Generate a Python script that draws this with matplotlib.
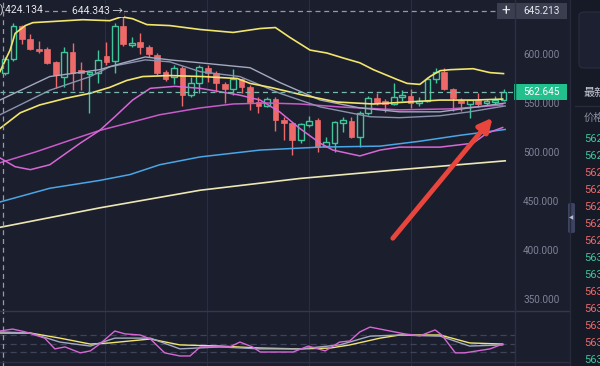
import matplotlib
matplotlib.use("Agg")
import matplotlib.pyplot as plt
from matplotlib.patches import Rectangle, FancyBboxPatch
from matplotlib.lines import Line2D

plt.rcParams['font.family'] = ['Roboto', 'Noto Sans CJK SC', 'DejaVu Sans']

# ---- candle data (60 bars) ----
opens = [582, 596, 630, 616, 606, 606, 593, 578, 603, 585,
         581, 582, 599, 594, 630, 610, 613, 608, 600, 583,
         578, 587, 559, 571, 587, 582, 570, 565, 575, 567,
         552, 548, 555, 534, 531, 513, 529, 534, 507, 510,
         531, 533, 516, 541, 556, 553, 550, 557, 558, 551,
         553, 575, 583, 565, 554, 550, 554, 551, 552, 554]
highs = [598, 633, 631, 621, 614, 608, 594, 608, 612, 593,
         584, 605, 613, 633, 644.343, 618, 622, 610, 602, 585,
         590, 589, 578, 590, 590, 584, 572, 586, 577, 569,
         557, 557, 557, 537, 532, 531, 538, 536, 516, 533,
         537, 537, 543, 558, 561, 555, 571, 564, 565, 557,
         578, 587, 587, 566, 556, 554, 561, 555, 558, 565]
lows = [580, 594, 611, 605, 602, 591, 566, 567, 564, 564,
        541, 571, 590, 582, 609, 608, 601, 598, 580, 573,
        570, 548, 557, 561, 572, 562, 551, 559, 561, 544,
        541, 547, 522, 513, 498, 510, 527, 501, 506, 501,
        521, 515, 506, 539, 549, 542, 549, 553, 546, 548,
        552, 571, 564, 543, 543, 536, 547, 549, 550, 553]
closes = [596, 630, 616, 606, 604, 592, 580, 603, 582, 582,
          583, 595, 593, 630, 611, 612, 608, 601, 582, 575,
          587, 559, 571, 588, 582, 571, 565, 575, 567, 552,
          548, 555, 534, 531, 513, 530, 533, 506, 511, 532,
          534, 516, 541, 556, 551, 550, 557, 559, 551, 553,
          575, 583, 565, 556, 551, 554, 550, 553, 554, 562.645]

# ---- overlay lines (bar index, price) ----
upper_x = [-0.6, 0.6, 1.2, 2.4, 3.3, 5.3, 9.2, 12.4, 13.8, 15.1, 16.8, 19.5, 23.1, 27, 30.2,
           32, 33.7, 36.1, 38.1, 40, 42, 43.6, 46.4, 47.6, 49.1, 50.3, 51.5, 52.7, 55.4, 57.4, 59]
upper_y = [583, 605, 622, 630, 633, 634, 636, 635, 639, 637, 631, 630, 626, 623, 627,
           628, 618, 605, 602, 597, 592, 585, 575, 571, 570, 578, 584, 585, 586, 582, 581]
mid_x = [-0.6, 1.8, 4.1, 7.3, 10.1, 12.4, 14.4, 16.3, 19.5, 23.4, 27.5, 29, 31.4, 35.3,
         39.3, 43.6, 47.6, 51.5, 55.4, 58.9]
mid_y = [525, 541, 549, 556, 561, 567, 574, 578, 579, 578, 576, 571, 567, 559,
         552, 550, 552, 554, 554, 555]
gray1_x = [-0.6, 5.3, 11.2, 13.6, 16.6, 19.5, 23.1, 29, 32.5, 37.3, 42, 46.7, 51.5, 55, 59.2]
gray1_y = [554, 578, 585, 591, 598, 595, 592, 587, 572, 554, 546, 542, 542, 546, 551]
gray2_x = [-0.6, 5.3, 10.1, 12.4, 16.6, 19.5, 23.1, 27.8, 32.5, 37.3, 43.2, 46.7, 51.5, 55, 59.2]
gray2_y = [539, 564, 578, 588, 595, 593, 583, 578, 561, 547, 537, 536, 538, 542, 548]
pink_fast_x = [-0.6, 1.2, 3, 5.3, 8.9, 11.2, 13, 15.1, 17.2, 20.1, 23.1, 27.8, 30.2, 32.5,
               34.9, 37.3, 38.8, 42, 44.4, 46.7, 51.5, 55.4, 57, 58.9]
pink_fast_y = [495, 486, 483, 488, 510, 523, 537, 554, 566, 568, 566, 559, 554, 542,
               525, 510, 503, 497, 503, 506, 506, 510, 520, 526]
pink_slow_x = [-0.6, 3.6, 7.7, 11.2, 14.8, 18.3, 23.1, 27, 31, 34.9, 39.6, 46.7, 52.7, 58.9]
pink_slow_y = [490, 501, 513, 523, 531, 539, 546, 550, 551, 550, 547, 544, 545, 549]
blue_x = [-0.6, 5.3, 11.2, 14.8, 18.3, 23.1, 30.2, 37.3, 44.4, 49.1, 53.8, 59.2]
blue_y = [450, 464, 472, 478, 488, 496, 503, 506, 507, 512, 518, 524]
long_x = [-0.6, 11.2, 23.1, 34.9, 46.7, 59.2]
long_y = [424.134, 444, 462, 474, 483, 492]

# ---- lower indicator panel ----
ind_pink_x = [-0.6, 0.9, 2.4, 4.7, 5.9, 7.1, 8.9, 10.1, 11.2, 13, 14.2, 16, 17.2, 18.9, 20.7,
              21.9, 23.1, 26.6, 27.8, 29.3, 30.2, 34.1, 35.9, 36.7, 37.9, 39.6, 40.8, 42,
              43.2, 47.3, 49.1, 50.9, 51.7, 53.3, 54.4, 57.4, 58.9]
ind_pink_y = [94, 101, 91, 69, 31, 38, 17, 24, 48, 94, 84, 80, 66, 17, 6,
              6, 38, 38, 55, 38, 20, 20, 41, 34, 24, 55, 59, 91,
              108, 84, 77, 98, 80, 17, 17, 31, 48]
ind_gray_x = [-0.6, 3, 6.5, 10.1, 13, 17.2, 20.7, 25.4, 30.2, 34.9, 39.6, 43.2, 46.7, 51.5, 55, 58.9]
ind_gray_y = [91, 87, 55, 41, 69, 69, 31, 38, 31, 31, 45, 76, 80, 76, 41, 45]
ind_yel_x = [-0.6, 3, 6.5, 10.1, 12.4, 17.2, 20.7, 25.4, 30.2, 34.9, 38.5, 40.8, 44.4, 46.7, 51.5, 55, 58.9]
ind_yel_y = [87, 87, 69, 48, 52, 66, 45, 41, 34, 31, 34, 45, 69, 80, 80, 52, 48]
ind_levels = [80, 50, 20]

price_ticks = [600, 550, 500, 450, 400, 350]
time_grid = [11.8, 23.9, 36.0, 48.1]
cross_price = 645.213
cross_idx = -0.24
high_text = "644.343 \u2192"
ma_text = "):424.134"
book_prices = ["562"] * 7 + ["563"] * 7
book_up = [True, True, False, False, False, False, False,
           True, True, False, False, False, False, True]
arrow_from = (45.9, 413)
arrow_to = (57.7, 536)

BG = '#1b1e2d'
PANEL = '#161926'
GRID = '#2a2e40'
UP = '#3fc79b'
DOWN = '#ee6a6a'
TXT = '#7d8296'

W, H = 600, 366
fig = plt.figure(figsize=(6, 3.66), dpi=100, facecolor=BG)

def fx(x):
    return x / W

def fy(y):
    return 1 - y / H

ax = fig.add_axes([0, fy(310), fx(515), 310 / H])
ax2 = fig.add_axes([0, 0, fx(515), 56 / H])
for a in (ax, ax2):
    a.set_facecolor(BG)
    a.set_axis_off()
ax.set_xlim(-0.592, 60.36)
ax.set_ylim(339.8, 656.1)
ax2.set_xlim(-0.592, 60.36)
ax2.set_ylim(-29.4, 168.3)

for g in time_grid:
    ax.axvline(g, color=GRID, lw=0.8, zorder=0)
    ax2.axvline(g, color=GRID, lw=0.8, zorder=0)

# candles
for i in range(len(opens)):
    o, h, l, c = opens[i], highs[i], lows[i], closes[i]
    col = UP if c >= o else DOWN
    ax.vlines(i, l, h, color=col, lw=1, zorder=2)
    body = max(abs(c - o), 1.0)
    if c >= o:
        ax.bar(i, body, bottom=min(o, c), width=0.68, color=BG, edgecolor=col, lw=1, zorder=3)
    else:
        ax.bar(i, body, bottom=min(o, c), width=0.68, color=col, edgecolor=col, lw=0.5, zorder=3)

# overlay lines
ax.plot(long_x, long_y, color='#ece7b4', lw=1.2, zorder=4)
ax.plot(blue_x, blue_y, color='#4aa6e6', lw=1.1, zorder=4)
ax.plot(pink_slow_x, pink_slow_y, color='#c85bc8', lw=1.1, zorder=4)
ax.plot(pink_fast_x, pink_fast_y, color='#d767d6', lw=1.1, zorder=4)
ax.plot(gray2_x, gray2_y, color='#8c92ad', lw=1.0, zorder=4)
ax.plot(gray1_x, gray1_y, color='#a4a9c0', lw=1.0, zorder=4)
ax.plot(mid_x, mid_y, color='#f1e56c', lw=1.2, zorder=4)
ax.plot(upper_x, upper_y, color='#f1e56c', lw=1.2, zorder=4)

# dashed guide lines
ax.axhline(cross_price, xmax=(497 / 515), color='#9599ab', lw=0.9, dashes=(4, 3), zorder=5)
ax.axhline(closes[-1], color='#79b9ae', lw=0.9, dashes=(4, 3), zorder=5)
fig.add_artist(Line2D([fx(3), fx(3)], [0, 1], color='#9599ab', lw=0.9, dashes=(4, 3)))

# indicator panel
for lv in ind_levels:
    ax2.axhline(lv, color='#3e4358', lw=0.9, dashes=(5, 3), zorder=1)
ax2.plot(ind_yel_x, ind_yel_y, color='#f1e56c', lw=1.0, zorder=3)
ax2.plot(ind_gray_x, ind_gray_y, color='#a4a9c0', lw=1.0, zorder=3)
ax2.plot(ind_pink_x, ind_pink_y, color='#d767d6', lw=1.0, zorder=4)
fig.add_artist(Line2D([0, fx(570)], [fy(310.5), fy(310.5)], color='#343849', lw=1))
fig.add_artist(Line2D([0, fx(570)], [fy(362), fy(362)], color='#2c3042', lw=1))
fig.add_artist(Line2D([fx(515), fx(515)], [0, 1], color='#2c3042', lw=1))

# red arrow
ax.annotate('', xy=arrow_to, xytext=arrow_from,
            arrowprops=dict(arrowstyle='-|>', color='#e8453c', lw=3.5,
                            mutation_scale=20, shrinkA=0, shrinkB=0), zorder=6)

# top labels
ax.text(-0.6, cross_price, ma_text, color='#e6e6ea', fontsize=7.5, va='center', ha='left',
        zorder=7, bbox=dict(boxstyle='square,pad=0.15', fc=BG, ec='none'))
ax.text(7.9, cross_price, high_text, color='#e6e6ea', fontsize=7.5, va='center', ha='left',
        zorder=7, bbox=dict(boxstyle='square,pad=0.15', fc=BG, ec='none'))

# price axis labels
for p in price_ticks:
    yf = ax.transData.transform((0, p))[1] / fig.bbox.height
    fig.text(fx(523), yf, f"{p:.3f}", color=TXT, fontsize=7.2, va='center', ha='left')

# crosshair price box
fig.add_artist(Rectangle((fx(497), fy(19)), fx(70), 16 / H, color='#3a3e4f', lw=0))
fig.text(fx(506), fy(11), '+', color='#e8eaf0', fontsize=11, va='center', ha='center')
fig.text(fx(523), fy(11), f"{cross_price:.3f}", color='#e8eaf0', fontsize=7.2, va='center', ha='left')

# last price box
yl = ax.transData.transform((0, closes[-1]))[1] / fig.bbox.height
fig.add_artist(Rectangle((fx(514), yl - 8 / H), fx(53), 16 / H, color='#22c08c', lw=0))
fig.text(fx(523), yl, f"{closes[-1]:.3f}", color='white', fontsize=7.2, va='center', ha='left')

# right side panel
fig.add_artist(Rectangle((fx(570), 0), fx(30), 1, color=PANEL, lw=0))
fig.add_artist(Line2D([fx(570), fx(570)], [0, 1], color='#262a3a', lw=1))
fig.add_artist(FancyBboxPatch((fx(579), fy(68)), fx(30), 56 / H,
                              boxstyle='round,pad=0,rounding_size=0.01',
                              fc='#1c2030', ec='#2a2e40', lw=0.8))
fig.add_artist(Line2D([fx(575), 1], [fy(106), fy(106)], color='#262a3a', lw=1))
fig.text(fx(584), fy(93), '最新价', color='#c9ccd8', fontsize=8, va='center', ha='left')
fig.text(fx(584), fy(118), '价格', color='#8d91a3', fontsize=7.5, va='center', ha='left')
for k, (bp, up) in enumerate(zip(book_prices, book_up)):
    fig.text(fx(584), fy(139 + k * 17), bp, color=UP if up else DOWN,
             fontsize=8, va='center', ha='left')

# collapse tab
fig.add_artist(FancyBboxPatch((fx(568), fy(233)), fx(7), 30 / H,
                              boxstyle='round,pad=0,rounding_size=0.004',
                              fc='#3d4361', ec='none'))
fig.text(fx(571.5), fy(218), '\u25c0', color='#b8bdd3', fontsize=4, va='center', ha='center',
         family='DejaVu Sans')

fig.savefig('out.png', dpi=100, facecolor=BG)
